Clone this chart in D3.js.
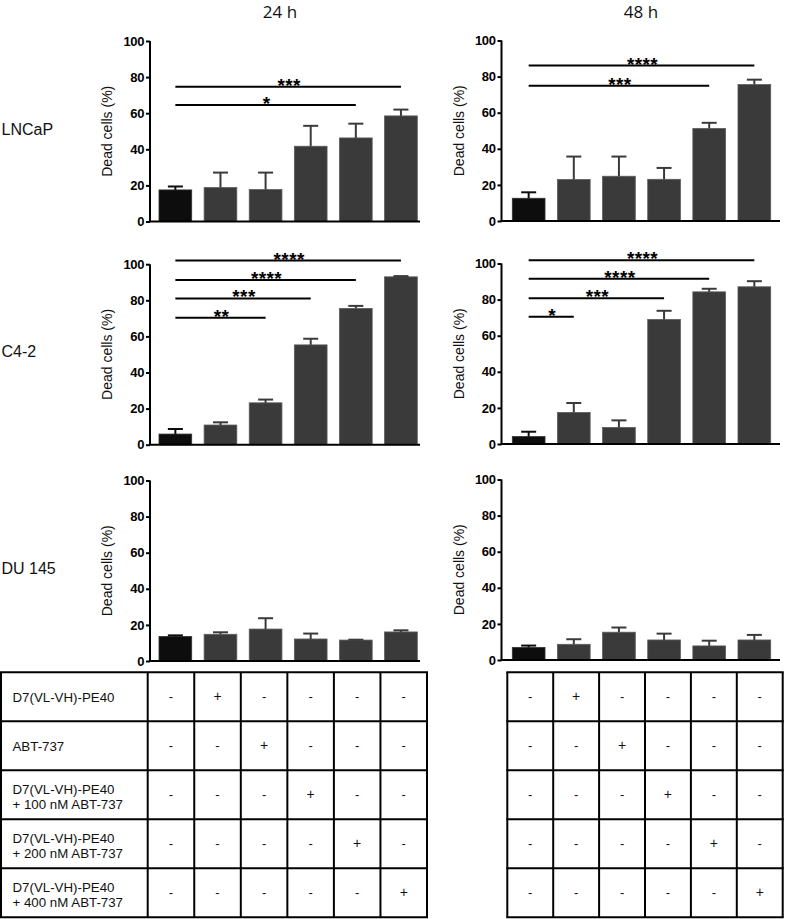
<!DOCTYPE html>
<html>
<head>
<meta charset="utf-8">
<script src="https://cdn.jsdelivr.net/npm/d3@7"></script>
<style>
  html, body { margin: 0; padding: 0; background: #fff; }
  svg { display: block; }
</style>
</head>
<body>
<svg id="chart" width="787" height="919"></svg>
<script>
// ---------------- DATA ----------------
const groups = ["Control", "D7(VL-VH)-PE40", "ABT-737", "D7+100", "D7+200", "D7+400"];
const timepoints = ["24 h", "48 h"];
const cellLines = ["LNCaP", "C4-2", "DU 145"];
const yTicks = [0, 20, 40, 60, 80, 100];

const lncap24 = [17.5, 18.8, 17.7, 41.7, 46.3, 58.5];
const lncap24Err = [1.9, 8.3, 9.4, 11.3, 7.9, 3.5];
const lncap48 = [12.6, 23.0, 24.8, 23.1, 51.3, 75.6];
const lncap48Err = [3.3, 12.7, 10.9, 6.3, 3.1, 2.7];
const c42_24 = [5.9, 10.9, 23.2, 55.3, 75.5, 93.0];
const c42_24Err = [2.8, 1.5, 1.8, 3.4, 1.4, 0.4];
const c42_48 = [4.1, 17.5, 9.2, 69.0, 84.3, 87.1];
const c42_48Err = [2.7, 5.2, 3.9, 4.8, 1.7, 3.1];
const du145_24 = [13.6, 14.8, 17.7, 12.2, 11.6, 16.1];
const du145_24Err = [0.6, 1.1, 6.0, 3.0, 0.2, 0.9];
const du145_48 = [7.0, 8.7, 15.4, 11.1, 7.8, 11.1];
const du145_48Err = [1.0, 2.8, 2.6, 3.5, 2.9, 2.8];

// significance: bracket from group 0 to group `to`, at level `y`
const sigLncap24 = [{to: 5, y: 74.7, label: "***"}, {to: 4, y: 64.6, label: "*"}];
const sigLncap48 = [{to: 5, y: 86.1, label: "****"}, {to: 4, y: 75.0, label: "***"}];
const sigC42_24 = [{to: 5, y: 102.0, label: "****"}, {to: 4, y: 91.3, label: "****"}, {to: 3, y: 81.0, label: "***"}, {to: 2, y: 70.3, label: "**"}];
const sigC42_48 = [{to: 5, y: 101.8, label: "****"}, {to: 4, y: 91.5, label: "****"}, {to: 3, y: 80.8, label: "***"}, {to: 1, y: 70.5, label: "*"}];
const sigDu145_24 = [];
const sigDu145_48 = [];

const treatmentRows = [
  ["D7(VL-VH)-PE40"],
  ["ABT-737"],
  ["D7(VL-VH)-PE40", "+ 100 nM ABT-737"],
  ["D7(VL-VH)-PE40", "+ 200 nM ABT-737"],
  ["D7(VL-VH)-PE40", "+ 400 nM ABT-737"]
];
// which group (column) receives each treatment row
const treatmentGroup = [1, 2, 3, 4, 5];

const panels = [
  {row: 0, col: 0, vals: lncap24, errs: lncap24Err, sig: sigLncap24},
  {row: 0, col: 1, vals: lncap48, errs: lncap48Err, sig: sigLncap48},
  {row: 1, col: 0, vals: c42_24, errs: c42_24Err, sig: sigC42_24},
  {row: 1, col: 1, vals: c42_48, errs: c42_48Err, sig: sigC42_48},
  {row: 2, col: 0, vals: du145_24, errs: du145_24Err, sig: sigDu145_24},
  {row: 2, col: 1, vals: du145_48, errs: du145_48Err, sig: sigDu145_48}
];

// ---------------- LAYOUT ----------------
const colLayout = [
  {axisX: 150, barStart: 159, barEnd: 417.3, axisEnd: 420, titleX: 280,
   tableLeft: 1, labelColRight: 147.7, tableRight: 427},
  {axisX: 501.5, barStart: 512.3, barEnd: 770.7, axisEnd: 780, titleX: 641,
   tableLeft: 507.3, labelColRight: 507.3, tableRight: 782.7}
];
const rowBase = [[221.5, 444.7, 661], [221, 444, 660]];
const plotH = 180.5;
const rowLabelBaseline = [135, 357, 574];
const tableTop = 672.3, tableRowH = 49;

const barFill = "#3a3a3a", ctrlFill = "#0d0d0d";
const svg = d3.select("#chart");
const font = "Arial, 'Liberation Sans', Helvetica, sans-serif";

// column titles
svg.selectAll("text.title").data(timepoints).join("text")
  .attr("class", "title")
  .attr("x", (d, i) => colLayout[i].titleX)
  .attr("y", 18)
  .attr("text-anchor", "middle")
  .attr("font-family", "'Open Sans', sans-serif")
  .attr("font-size", 17)
  .attr("fill", "#111")
  .text(d => d);

// row labels
svg.selectAll("text.rowlab").data(cellLines).join("text")
  .attr("class", "rowlab")
  .attr("x", 1.5)
  .attr("y", (d, i) => rowLabelBaseline[i])
  .attr("font-family", font)
  .attr("font-size", 16)
  .attr("fill", "#111")
  .text(d => d);

panels.forEach(p => {
  const L = colLayout[p.col];
  const y0 = rowBase[p.col][p.row];
  const x = d3.scaleBand().domain(d3.range(groups.length))
    .range([L.barStart, L.barEnd]).paddingInner(0.275).paddingOuter(0);
  const y = d3.scaleLinear().domain([0, 100]).range([y0, y0 - plotH]);
  const g = svg.append("g");

  // bars
  g.selectAll("rect.bar").data(p.vals).join("rect")
    .attr("x", (d, i) => x(i))
    .attr("y", d => y(d))
    .attr("width", x.bandwidth())
    .attr("height", d => y(0) - y(d))
    .attr("fill", (d, i) => i === 0 ? ctrlFill : barFill)
    .attr("stroke", (d, i) => i === 0 ? "#333" : "#5c5c5c")
    .attr("stroke-width", 0.8);

  // error bars (upper only)
  const capW = 15;
  const eg = g.selectAll("g.err").data(p.vals.map((v, i) => ({v, e: p.errs[i], i}))).join("g")
    .attr("stroke", d => d.i === 0 ? ctrlFill : barFill)
    .attr("stroke-width", 2);
  eg.append("line")
    .attr("x1", d => x(d.i) + x.bandwidth() / 2)
    .attr("x2", d => x(d.i) + x.bandwidth() / 2)
    .attr("y1", d => y(d.v))
    .attr("y2", d => y(d.v + d.e));
  eg.append("line")
    .attr("x1", d => x(d.i) + x.bandwidth() / 2 - capW / 2)
    .attr("x2", d => x(d.i) + x.bandwidth() / 2 + capW / 2)
    .attr("y1", d => y(d.v + d.e))
    .attr("y2", d => y(d.v + d.e));

  // y axis
  const ax = g.append("g")
    .attr("transform", `translate(${L.axisX},0)`)
    .call(d3.axisLeft(y).tickValues(yTicks).tickSize(4).tickPadding(2));
  ax.select(".domain").attr("stroke", "#000").attr("stroke-width", 2)
    .attr("d", `M0,${y(100)}V${y(0)}`);
  ax.selectAll(".tick line").attr("stroke", "#000").attr("stroke-width", 2);
  ax.selectAll(".tick text")
    .attr("font-family", font).attr("font-weight", "bold")
    .attr("font-size", 13).attr("fill", "#000").attr("letter-spacing", -0.4);

  // x axis baseline
  g.append("line")
    .attr("x1", L.axisX - 1).attr("x2", L.axisEnd)
    .attr("y1", y(0)).attr("y2", y(0))
    .attr("stroke", "#000").attr("stroke-width", 2);

  // y label
  g.append("text")
    .attr("transform", `translate(${L.axisX - 38},${(y(0) + y(100)) / 2}) rotate(-90)`)
    .attr("text-anchor", "middle")
    .attr("font-family", font)
    .attr("font-size", 14)
    .attr("fill", "#111")
    .text("Dead cells (%)");

  // significance brackets
  const cx = i => x(i) + x.bandwidth() / 2;
  const sg = g.selectAll("g.sig").data(p.sig).join("g");
  sg.append("line")
    .attr("x1", cx(0)).attr("x2", d => cx(d.to))
    .attr("y1", d => y(d.y)).attr("y2", d => y(d.y))
    .attr("stroke", "#000").attr("stroke-width", 2);
  sg.append("text")
    .attr("x", d => (cx(0) + cx(d.to)) / 2 + 1)
    .attr("y", d => y(d.y) + 5)
    .attr("text-anchor", "middle")
    .attr("font-family", font)
    .attr("font-size", 19)
    .attr("font-weight", "bold")
    .attr("letter-spacing", 0.4)
    .attr("fill", "#000")
    .text(d => d.label);
});

// ---------------- TABLES ----------------
colLayout.forEach((L, ci) => {
  const g = svg.append("g");
  const cols = d3.scaleBand().domain(d3.range(groups.length))
    .range([L.labelColRight, L.tableRight]);
  const rows = d3.scaleBand().domain(d3.range(treatmentRows.length))
    .range([tableTop, tableTop + tableRowH * treatmentRows.length]);

  // grid lines
  const vx = [L.tableLeft, ...d3.range(groups.length).map(i => cols(i)), L.tableRight];
  const uniq = Array.from(new Set(vx.map(v => +v.toFixed(2))));
  g.selectAll("line.v").data(uniq).join("line")
    .attr("x1", d => d).attr("x2", d => d)
    .attr("y1", rows.range()[0]).attr("y2", rows.range()[1])
    .attr("stroke", "#000").attr("stroke-width", 2);
  const hy = d3.range(treatmentRows.length + 1).map(i => tableTop + i * rows.bandwidth());
  g.selectAll("line.h").data(hy).join("line")
    .attr("x1", L.tableLeft - 1).attr("x2", L.tableRight + 1)
    .attr("y1", d => d).attr("y2", d => d)
    .attr("stroke", "#000").attr("stroke-width", 2);

  // row labels (only on the left table)
  if (ci === 0) {
    treatmentRows.forEach((lines, ri) => {
      const cy = rows(ri) + rows.bandwidth() / 2;
      const t = g.append("text").attr("font-family", font).attr("font-size", 13.3).attr("fill", "#111");
      if (lines.length === 1) {
        t.append("tspan").attr("x", 12.5).attr("y", cy + 5).text(lines[0]);
      } else {
        lines.forEach((ln, li) => {
          t.append("tspan").attr("x", 12.5).attr("y", cy - 1 + li * 15.5).text(ln);
        });
      }
    });
  }

  // +/- marks
  treatmentRows.forEach((lines, ri) => {
    groups.forEach((gname, gi) => {
      const on = treatmentGroup[ri] === gi;
      g.append("text")
        .attr("x", cols(gi) + cols.bandwidth() / 2)
        .attr("y", rows(ri) + rows.bandwidth() / 2 + 4.5)
        .attr("text-anchor", "middle")
        .attr("font-family", font)
        .attr("font-size", on ? 14 : 13)
        .attr("fill", "#111")
        .text(on ? "+" : "-");
    });
  });
});
</script>
</body>
</html>
